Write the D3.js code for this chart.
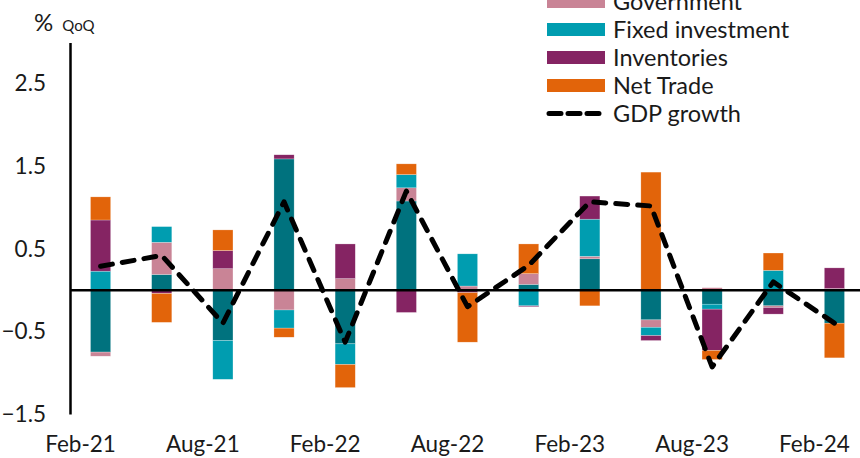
<!DOCTYPE html>
<html>
<head>
<meta charset="utf-8">
<script src="https://cdn.jsdelivr.net/npm/d3@7"></script>
<style>
  body { margin: 0; background: #fff; }
  #chart { width: 860px; height: 458px; }
  text { font-family: Lato, "Open Sans", sans-serif; fill: #1a1a1a; }
</style>
</head>
<body>
<div id="chart"></div>
<script>
// quarterly contributions to GDP growth, percentage points
const categories = ["Feb-21", "May-21", "Aug-21", "Nov-21", "Feb-22", "May-22", "Aug-22",
    "Nov-22", "Feb-23", "May-23", "Aug-23", "Nov-23", "Feb-24"];
const consumption     = [-0.75, 0.19, -0.61, 1.59, -0.65, 1.08, 0.00, 0.07, 0.38, -0.36, -0.17, -0.19, -0.40];
const government      = [-0.05, 0.39, 0.26, -0.24, 0.14, 0.16, 0.05, 0.13, 0.03, -0.09, 0.03, -0.02, 0.02];
const fixedInvestment = [0.23, 0.19, -0.47, -0.22, -0.25, 0.16, 0.39, -0.19, 0.45, -0.10, -0.06, 0.24, 0.00];
const inventories     = [0.62, -0.04, 0.22, 0.05, 0.42, -0.27, -0.03, -0.01, 0.28, -0.06, -0.50, -0.08, 0.25];
const netTrade        = [0.28, -0.35, 0.25, -0.11, -0.28, 0.13, -0.60, 0.36, -0.19, 1.43, -0.11, 0.21, -0.42];
const gdpGrowth       = [0.29, 0.42, -0.40, 1.07, -0.63, 1.20, -0.20, 0.30, 1.07, 1.02, -0.93, 0.10, -0.40];
const yTicks = [-1.5, -0.5, 0.5, 1.5, 2.5];
const xTickLabels = ["Feb-21", "Aug-21", "Feb-22", "Aug-22", "Feb-23", "Aug-23", "Feb-24"];

const seriesNames = ["Consumption", "Government", "Fixed investment", "Inventories", "Net Trade"];
const seriesValues = [consumption, government, fixedInvestment, inventories, netTrade];
const colors = ["#00727e", "#c98496", "#009db0", "#852463", "#e2640a"];

const width = 860, height = 458;
const margin = { top: 42.5, right: -5, bottom: 44, left: 70 };

const svg = d3.select("#chart").append("svg")
    .attr("width", width)
    .attr("height", height);

// build rows for d3.stack
const rows = categories.map((c, i) => {
    const row = { date: c };
    seriesNames.forEach((s, j) => { row[s] = seriesValues[j][i]; });
    return row;
});
const stacked = d3.stack()
    .keys(seriesNames)
    .order(d3.stackOrderNone)
    .offset(d3.stackOffsetDiverging)(rows);

// scales
const x = d3.scaleBand()
    .domain(categories)
    .range([margin.left, width - margin.right])
    .paddingInner(0.67)
    .paddingOuter(0.335);
const y = d3.scaleLinear()
    .domain([-1.5, 3])
    .range([height - margin.bottom, margin.top]);

// bars
svg.append("g")
    .selectAll("g")
    .data(stacked)
    .join("g")
    .attr("fill", (d, i) => colors[i])
    .selectAll("rect")
    .data(d => d)
    .join("rect")
    .attr("x", d => x(d.data.date))
    .attr("width", x.bandwidth())
    .attr("y", d => y(Math.max(d[0], d[1])))
    .attr("height", d => Math.abs(y(d[0]) - y(d[1])))
    .attr("stroke", "#fff")
    .attr("stroke-width", 0.5)
    .attr("stroke-opacity", 0.5);

// zero line
svg.append("line")
    .attr("x1", margin.left)
    .attr("x2", width)
    .attr("y1", y(0))
    .attr("y2", y(0))
    .attr("stroke", "#000")
    .attr("stroke-width", 2.5);

// y axis
const yAxis = d3.axisLeft(y)
    .tickValues(yTicks)
    .tickSize(0)
    .tickPadding(24)
    .tickFormat(d3.format(".1f"));
const yg = svg.append("g")
    .attr("transform", `translate(${margin.left},0)`)
    .call(yAxis);
yg.select(".domain").attr("stroke", "#000").attr("stroke-width", 2.5);
yg.selectAll("text").style("font-size", "22.5px").style("font-family", "Lato, sans-serif").attr("fill", "#1a1a1a");

// x axis labels (two-quarter spacing, sitting left of the band centre)
const xAxis = d3.axisBottom(x)
    .tickValues(xTickLabels)
    .tickSize(0)
    .tickPadding(22);
const xg = svg.append("g")
    .attr("transform", `translate(-20,${y(-1.5)})`)
    .call(xAxis);
xg.select(".domain").remove();
xg.selectAll("text").style("font-size", "22.5px").style("font-family", "Lato, sans-serif").attr("fill", "#1a1a1a");

// GDP growth line
const line = d3.line()
    .x((d, i) => x(categories[i]) + x.bandwidth() / 2)
    .y(d => y(d));
svg.append("path")
    .datum(gdpGrowth)
    .attr("fill", "none")
    .attr("stroke", "#000")
    .attr("stroke-width", 5)
    .attr("stroke-dasharray", "12,10")
    .attr("stroke-linecap", "round")
    .attr("stroke-linejoin", "round")
    .attr("d", line);

// unit label
const unit = svg.append("text")
    .attr("x", 34)
    .attr("y", 31);
unit.append("tspan").style("font-size", "24px").text("%");
unit.append("tspan").attr("dx", 9).style("font-size", "15px").text("QoQ");

// legend (top rows run off the top edge, as in the source)
const legend = svg.append("g")
    .attr("transform", "translate(547,0)");
const rowY = i => -26.5 + i * 28;
seriesNames.forEach((s, i) => {
    legend.append("rect")
        .attr("x", 0)
        .attr("y", rowY(i) - 6.5)
        .attr("width", 58)
        .attr("height", 13)
        .attr("fill", colors[i]);
    legend.append("text")
        .attr("x", 66)
        .attr("y", rowY(i))
        .attr("dy", "0.35em")
        .style("font-size", "23.5px")
        .text(s);
});
legend.append("line")
    .attr("x1", 2)
    .attr("x2", 56)
    .attr("y1", rowY(5))
    .attr("y2", rowY(5))
    .attr("stroke", "#000")
    .attr("stroke-width", 5)
    .attr("stroke-dasharray", "12,7")
    .attr("stroke-linecap", "round");
legend.append("text")
    .attr("x", 66)
    .attr("y", rowY(5))
    .attr("dy", "0.35em")
    .style("font-size", "23.5px")
    .text("GDP growth");
</script>
</body>
</html>
